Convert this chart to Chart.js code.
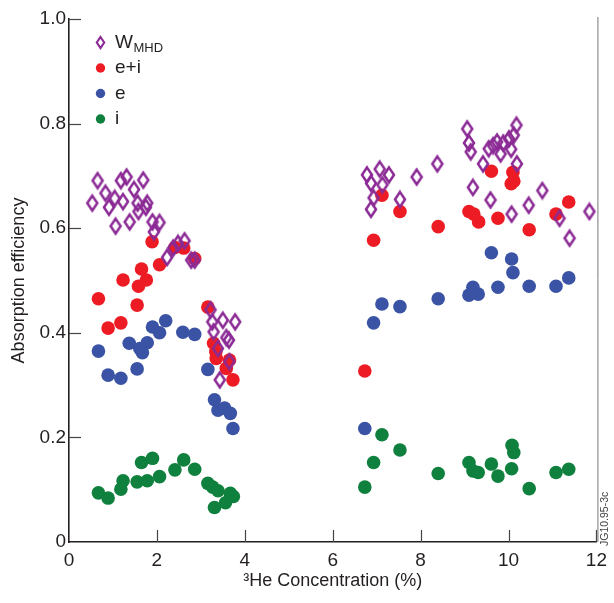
<!DOCTYPE html>
<html><head><meta charset="utf-8">
<script src="https://cdn.jsdelivr.net/npm/chart.js@4.4.1/dist/chart.umd.min.js"></script>
<style>html,body{margin:0;padding:0;background:#fff;}#wrap{width:614px;height:603px;}</style>
</head><body><div id="wrap"><canvas id="c" width="614" height="603"></canvas></div>
<script>
const xTicks = [0, 2, 4, 6, 8, 10, 12];
const yTicks = [0, 0.2, 0.4, 0.6, 0.8, 1.0];
const seriesNames = ['W', 'e+i', 'e', 'i'];
const seriesSub = ['MHD', '', '', ''];
const xTitle = '\u00B3He Concentration (%)';
const yTitle = 'Absorption efficiency';
const sideLabel = 'JG10.95-3c';

const wmhdX = [0.53,0.65,0.83,0.91,1.04,1.06,1.18,1.23,1.31,1.38,1.48,1.56,1.58,1.69,1.75,1.78,1.90,1.93,2.06,2.23,2.37,2.48,2.63,2.78,2.86,3.22,3.26,3.29,3.39,3.43,3.50,3.58,3.64,3.65,3.78,
  6.78,6.87,6.87,6.93,7.07,7.13,7.28,7.53,7.91,8.38,9.06,9.10,9.14,9.19,9.42,9.55,9.59,9.65,9.74,9.82,9.88,10.01,10.06,10.07,10.12,10.18,10.19,10.46,10.77,11.16,11.39,11.84];
const wmhdY = [0.648,0.691,0.667,0.640,0.657,0.604,0.691,0.651,0.698,0.612,0.674,0.648,0.632,0.692,0.640,0.648,0.612,0.593,0.611,0.544,0.562,0.571,0.576,0.539,0.539,0.444,0.421,0.402,0.370,0.310,0.424,0.391,0.386,0.345,0.421,
  0.702,0.686,0.636,0.658,0.713,0.683,0.702,0.655,0.698,0.723,0.790,0.763,0.746,0.678,0.723,0.752,0.654,0.758,0.765,0.742,0.763,0.771,0.751,0.627,0.778,0.797,0.723,0.644,0.672,0.619,0.581,0.632];

const eiX = [0.67,0.89,1.18,1.23,1.55,1.58,1.65,1.76,1.89,2.06,2.41,2.61,2.86,3.16,3.29,3.34,3.35,3.58,3.65,3.73,
  6.73,6.93,7.12,7.53,8.40,9.10,9.21,9.32,9.61,9.76,10.06,10.10,10.12,10.47,11.08,11.37];
const eiY = [0.465,0.409,0.419,0.501,0.453,0.489,0.522,0.501,0.574,0.530,0.563,0.562,0.542,0.449,0.380,0.364,0.351,0.332,0.348,0.310,
  0.327,0.577,0.663,0.632,0.603,0.632,0.627,0.612,0.709,0.619,0.685,0.707,0.690,0.597,0.627,0.650];

const eX = [0.67,0.89,1.18,1.37,1.55,1.61,1.67,1.78,1.90,2.06,2.20,2.59,2.86,3.16,3.31,3.39,3.54,3.67,3.73,
  6.73,6.93,7.12,7.53,8.40,9.10,9.19,9.31,9.61,9.76,10.07,10.10,10.47,11.08,11.37];
const eY = [0.365,0.319,0.313,0.380,0.331,0.370,0.362,0.381,0.411,0.400,0.423,0.401,0.397,0.330,0.272,0.252,0.256,0.246,0.217,
  0.217,0.419,0.455,0.450,0.465,0.472,0.487,0.474,0.553,0.487,0.541,0.515,0.489,0.489,0.505];

const iX = [0.67,0.89,1.18,1.23,1.55,1.65,1.78,1.90,2.06,2.41,2.61,2.86,3.16,3.27,3.31,3.39,3.56,3.67,3.74,
  6.73,6.93,7.12,7.53,8.40,9.10,9.19,9.31,9.61,9.76,10.07,10.08,10.12,10.47,11.08,11.37];
const iY = [0.094,0.084,0.101,0.117,0.115,0.152,0.117,0.160,0.125,0.138,0.157,0.139,0.112,0.105,0.066,0.098,0.075,0.093,0.087,
  0.105,0.152,0.205,0.176,0.131,0.152,0.136,0.133,0.149,0.126,0.140,0.185,0.171,0.102,0.133,0.139];

const PURPLE = '#8B2A95', RED = '#ED1C24', BLUE = '#3A53A4', GREEN = '#0F803E';
const FONT = 'Liberation Sans, Arial, Helvetica, sans-serif';
const INK = '#231F20';

function pts(xs, ys) { return xs.map((x, k) => ({x: x, y: ys[k]})); }

function makeDiamond() {
  const c = document.createElement('canvas');
  c.width = 16; c.height = 20;
  const g = c.getContext('2d');
  g.strokeStyle = PURPLE; g.lineWidth = 2.5; g.lineJoin = 'miter';
  g.beginPath(); g.moveTo(8, 2.6); g.lineTo(13.0, 10); g.lineTo(8, 17.4); g.lineTo(3.0, 10); g.closePath(); g.stroke();
  return c;
}
const diamond = makeDiamond();

const deco = {
  id: 'deco',
  afterDraw(chart) {
    const ctx = chart.ctx, a = chart.chartArea;
    const xs = chart.scales.x, ys = chart.scales.y;
    ctx.save();
    ctx.strokeStyle = '#444'; ctx.lineWidth = 1.2;
    xTicks.forEach(v => { if (v === 0) return; const p = Math.round(xs.getPixelForValue(v)) + 0.5;
      ctx.beginPath(); ctx.moveTo(p, a.bottom); ctx.lineTo(p, a.bottom - 12); ctx.stroke(); });
    yTicks.forEach(v => { if (v === 0) return; const p = Math.round(ys.getPixelForValue(v)) + 0.5;
      ctx.beginPath(); ctx.moveTo(a.left, p); ctx.lineTo(a.left + 12, p); ctx.stroke(); });
    ctx.strokeStyle = '#777'; ctx.lineWidth = 1;
    ctx.beginPath(); ctx.moveTo(a.right + 1.5, a.top - 2); ctx.lineTo(a.right + 1.5, a.bottom); ctx.stroke();
    ctx.fillStyle = '#444'; ctx.font = '10.5px ' + FONT;
    ctx.translate(a.right + 9, a.bottom + 4); ctx.rotate(-Math.PI / 2);
    ctx.textAlign = 'left'; ctx.textBaseline = 'middle';
    ctx.fillText(sideLabel, 0, 0);
    ctx.restore();
    ctx.save();
    const colors = [PURPLE, RED, BLUE, GREEN];
    const rowsY = [42.5, 68, 93.5, 119];
    const mx = 100.5, tx = 115;
    seriesNames.forEach((name, k) => {
      const y = rowsY[k];
      if (k === 0) {
        ctx.strokeStyle = PURPLE; ctx.lineWidth = 2.1;
        ctx.beginPath(); ctx.moveTo(mx, y - 5.5); ctx.lineTo(mx + 3.7, y); ctx.lineTo(mx, y + 5.5); ctx.lineTo(mx - 3.7, y); ctx.closePath(); ctx.stroke();
      } else {
        ctx.fillStyle = colors[k];
        ctx.beginPath(); ctx.arc(mx, y, 4.7, 0, Math.PI * 2); ctx.fill();
      }
      ctx.fillStyle = INK; ctx.textBaseline = 'middle'; ctx.textAlign = 'left';
      ctx.font = '19px ' + FONT;
      ctx.fillText(name, tx, y);
      if (seriesSub[k]) {
        const w = ctx.measureText(name).width;
        ctx.font = '13px ' + FONT;
        ctx.fillText(seriesSub[k], tx + w + 0.5, y + 6);
      }
    });
    ctx.restore();
  }
};

new Chart(document.getElementById('c'), {
  type: 'scatter',
  data: {
    datasets: [
      {label: 'WMHD', data: pts(wmhdX, wmhdY), pointStyle: diamond, pointRadius: 8},
      {label: 'e+i', data: pts(eiX, eiY), pointStyle: 'circle', pointRadius: 6.8, backgroundColor: RED, borderColor: RED, borderWidth: 0},
      {label: 'e', data: pts(eX, eY), pointStyle: 'circle', pointRadius: 6.8, backgroundColor: BLUE, borderColor: BLUE, borderWidth: 0},
      {label: 'i', data: pts(iX, iY), pointStyle: 'circle', pointRadius: 6.8, backgroundColor: GREEN, borderColor: GREEN, borderWidth: 0}
    ]
  },
  options: {
    responsive: false, animation: false, devicePixelRatio: 1,
    layout: {padding: {top: 19, right: 16, bottom: 0, left: 0}},
    plugins: {legend: {display: false}, tooltip: {enabled: false}},
    scales: {
      x: {
        type: 'linear', min: 0, max: 12,
        afterBuildTicks: s => { s.ticks = xTicks.map(v => ({value: v})); },
        afterFit: s => { s.height = 61; },
        ticks: {font: {family: FONT, size: 19}, color: INK, padding: 7, maxRotation: 0, autoSkip: false},
        grid: {display: true, drawOnChartArea: false, drawTicks: false},
        border: {display: true, color: '#231F20', width: 1.6},
        title: {display: true, text: xTitle, font: {family: FONT, size: 18}, color: INK, padding: {top: 0, bottom: 11}}
      },
      y: {
        type: 'linear', min: 0, max: 1.0,
        afterBuildTicks: s => { s.ticks = yTicks.map(v => ({value: v})); },
        afterFit: s => { s.width = 69; },
        ticks: {font: {family: FONT, size: 19}, color: INK, padding: 3,
          callback: v => (v === 0 ? '0' : Number(v).toFixed(1))},
        grid: {display: true, drawOnChartArea: false, drawTicks: false},
        border: {display: true, color: '#231F20', width: 1.6},
        title: {display: true, text: yTitle, font: {family: FONT, size: 18}, color: INK, padding: {top: 8, bottom: 0}}
      }
    }
  },
  plugins: [deco]
});
</script></body></html>
